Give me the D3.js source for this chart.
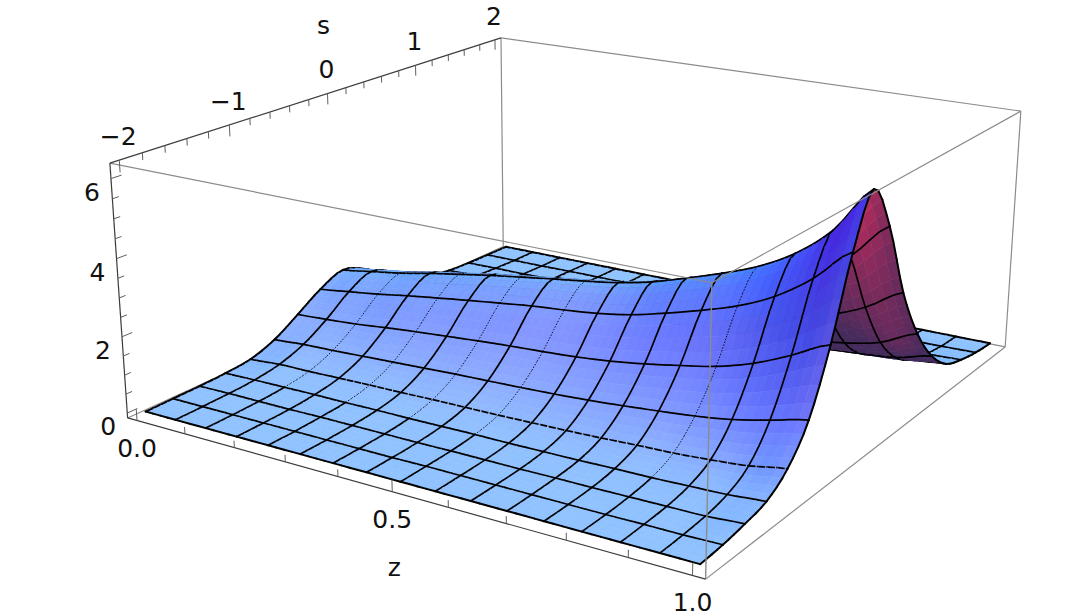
<!DOCTYPE html>
<html>
<head>
<meta charset="utf-8">
<script src="https://cdnjs.cloudflare.com/ajax/libs/d3/7.8.5/d3.min.js"></script>
<style>
  html, body { margin: 0; background: #fff; }
  text { font-family: "DejaVu Sans", sans-serif; font-size: 25px; fill: #111; text-anchor: middle; }
</style>
</head>
<body>
<svg id="chart" width="1088" height="616"></svg>
<script>
// mesh positions of the surface
const zValues = [0, 0.0625, 0.125, 0.1875, 0.25, 0.3125, 0.375, 0.4375, 0.5, 0.5625, 0.625, 0.6875, 0.75, 0.8125, 0.875, 0.9375, 1];
const sValues = [-2, -1.75, -1.5, -1.25, -1, -0.75, -0.5, -0.25, 0, 0.25, 0.5, 0.75, 1, 1.25, 1.5, 1.75, 2];

// surface height, one row per z value, one column per s value
const heights = [
  [0, .01, .02, .05, .12, .36, .77, 1.20, 1.47, 1.22, .76, .38, .18, .07, .03, .01, 0],
  [0, .01, .03, .07, .18, .42, .82, 1.31, 1.60, 1.31, .82, .43, .21, .09, .04, .01, 0],
  [0, .01, .03, .08, .19, .45, .88, 1.42, 1.73, 1.42, .88, .47, .22, .10, .04, .01, 0],
  [0, .01, .03, .09, .21, .49, .97, 1.56, 1.90, 1.56, .97, .51, .25, .10, .05, .02, 0],
  [0, .01, .04, .09, .23, .53, 1.05, 1.68, 2.05, 1.68, 1.05, .55, .27, .11, .05, .02, 0],
  [0, .01, .04, .10, .24, .57, 1.12, 1.80, 2.20, 1.80, 1.12, .59, .29, .12, .06, .02, 0],
  [0, .01, .04, .10, .26, .61, 1.19, 1.91, 2.33, 1.91, 1.19, .63, .30, .13, .06, .02, 0],
  [0, .01, .04, .11, .27, .64, 1.25, 2.02, 2.46, 2.02, 1.25, .66, .32, .14, .06, .02, 0],
  [0, .02, .05, .12, .28, .67, 1.30, 2.10, 2.58, 2.12, 1.32, .70, .34, .14, .06, .02, .01],
  [0, .02, .05, .12, .30, .71, 1.36, 2.20, 2.72, 2.23, 1.39, .73, .35, .15, .07, .02, .01],
  [0, .02, .05, .13, .32, .76, 1.45, 2.35, 2.92, 2.39, 1.49, .79, .38, .16, .07, .02, .01],
  [0, .02, .06, .14, .35, .83, 1.58, 2.58, 3.20, 2.62, 1.63, .86, .42, .18, .08, .03, .01],
  [0, .02, .06, .16, .39, .91, 1.74, 2.84, 3.50, 2.87, 1.79, .95, .46, .19, .09, .03, .01],
  [0, .02, .07, .17, .42, 1.00, 1.92, 3.14, 3.85, 3.16, 1.96, 1.04, .50, .21, .10, .03, .01],
  [0, .03, .08, .20, .48, 1.13, 2.20, 3.56, 4.35, 3.57, 2.22, 1.17, .57, .24, .11, .03, .01],
  [0, .03, .09, .23, .56, 1.33, 2.60, 4.18, 5.10, 4.18, 2.60, 1.38, .66, .28, .13, .04, .01],
  [0, .05, .15, .30, .72, 1.55, 3.05, 5.00, 6.25, 5.10, 3.16, 1.80, .90, .37, .17, .06, .01]
];

// tick marks and labels
const zTicksMajor = [0, 0.5, 1];
const zTicksMinor = [0.1, 0.2, 0.3, 0.4, 0.6, 0.7, 0.8, 0.9];
const sTicksMajor = [-2, -1, 0, 1, 2];
const sTicksMinor = [-1.8, -1.6, -1.4, -1.2, -0.8, -0.6, -0.4, -0.2, 0.2, 0.4, 0.6, 0.8, 1.2, 1.4, 1.6, 1.8];
const hTicksMajor = [0, 2, 4, 6];
const hTicksMinor = [0.5, 1, 1.5, 2.5, 3, 3.5, 4.5, 5, 5.5];
const zTickLabels = ['0.0', '0.5', '1.0'];
const sTickLabels = ['\u22122', '\u22121', '0', '1', '2'];
const hTickLabels = ['0', '2', '4', '6'];

// mesh lines that z-fight with the surface in the picture and come out broken
const faintZLines = [2, 4, 6, 8, 13];
const faintSRange = [-1.25, 0.25];
const brokenSLines = [4];
const brokenZFrom = 3;

const zDomain = [-0.02, 1.02];
const sDomain = [-2.08, 2.08];
const hDomain = [-0.13, 6.38];

const zScale = d3.scaleLinear().domain(zDomain).range([0, 1]);
const sScale = d3.scaleLinear().domain(sDomain).range([0, 1]);
const hScale = d3.scaleLinear().domain(hDomain).range([0, 0.4]);

// where seven corners of the box sit in the picture; the camera is fitted to them
const boxCorners = [
  { c: [0, 0, 0], p: [127.5, 418] },
  { c: [0, 0, 0.4], p: [110, 163] },
  { c: [1, 0, 0], p: [706, 579] },
  { c: [1, 0, 0.4], p: [711.5, 283] },
  { c: [1, 1, 0], p: [1005, 347] },
  { c: [1, 1, 0.4], p: [1021, 111] },
  { c: [0, 1, 0.4], p: [501, 38] }
];

function fitCamera(corners) {
  const rows = [];
  corners.forEach(({ c: [x, y, h], p: [u, v] }) => {
    rows.push([x, y, h, 1, 0, 0, 0, 0, -u * x, -u * y, -u * h, u]);
    rows.push([0, 0, 0, 0, x, y, h, 1, -v * x, -v * y, -v * h, v]);
  });
  // normal equations, then plain gaussian elimination
  const n = 11;
  const m = d3.range(n).map(a => d3.range(n + 1).map(b => d3.sum(rows, r => r[a] * r[b])));
  for (let i = 0; i < n; i++) {
    let pivot = i;
    for (let k = i + 1; k < n; k++) if (Math.abs(m[k][i]) > Math.abs(m[pivot][i])) pivot = k;
    [m[i], m[pivot]] = [m[pivot], m[i]];
    for (let k = 0; k < n; k++) {
      if (k === i) continue;
      const f = m[k][i] / m[i][i];
      for (let b = i; b <= n; b++) m[k][b] -= f * m[i][b];
    }
  }
  return m.map((r, i) => r[n] / r[i]);
}

const cam = fitCamera(boxCorners);

function projectBox(x, y, h) {
  const w = cam[8] * x + cam[9] * y + cam[10] * h + 1;
  return [
    (cam[0] * x + cam[1] * y + cam[2] * h + cam[3]) / w,
    (cam[4] * x + cam[5] * y + cam[6] * h + cam[7]) / w
  ];
}
const project = (z, s, h) => projectBox(zScale(z), sScale(s), hScale(h));

// catmull-rom lookup in the table, only used to round off the drawn patches
function cubic(a, b, c, d, t) {
  return b + 0.5 * t * (c - a + t * (2 * a - 5 * b + 4 * c - d + t * (3 * (b - c) + d - a)));
}
function heightAt(fi, fj) {
  const last = heights.length - 1;
  const i = Math.min(Math.floor(fi), last - 1);
  const j = Math.min(Math.floor(fj), last - 1);
  const at = (a, b) => heights[Math.max(0, Math.min(last, a))][Math.max(0, Math.min(last, b))];
  const col = [-1, 0, 1, 2].map(d => cubic(at(i + d, j - 1), at(i + d, j), at(i + d, j + 1), at(i + d, j + 2), fj - j));
  return cubic(col[0], col[1], col[2], col[3], fi - i);
}

const sub = 4;
const cells = (zValues.length - 1) * sub;
const zStep = zValues[1] - zValues[0];
const sStep = sValues[1] - sValues[0];

const grid = d3.range(cells + 1).map(i => d3.range(cells + 1).map(j => {
  const h = heightAt(i / sub, j / sub);
  const z = zValues[0] + zStep * i / sub;
  const s = sValues[0] + sStep * j / sub;
  return { z, s, h, x: zScale(z), y: sScale(s), b: hScale(h), p: project(z, s, h), ground: project(z, s, 0) };
}));

// view basis of the default camera and its three coloured lights
const viewRight = [0.878, 0.475, 0];
const viewUp = [-0.28, 0.518, 0.808];
const viewBack = [0.383, -0.708, 0.59];
const dot = (a, b) => a[0] * b[0] + a[1] * b[1] + a[2] * b[2];
const unit = a => { const l = Math.hypot(...a); return a.map(d => d / l); };
const lightR = unit([0.75, -0.05, 0.62]);
const lightG = unit([0.6, 0.42, 0.68]);
const lightB = unit([-0.5, 1.5, 2]);

function normalAt(i, j) {
  const i0 = Math.max(0, i - 1), i1 = Math.min(cells, i + 1);
  const j0 = Math.max(0, j - 1), j1 = Math.min(cells, j + 1);
  const dx = (grid[i1][j].b - grid[i0][j].b) / (grid[i1][j].x - grid[i0][j].x);
  const dy = (grid[i][j1].b - grid[i][j0].b) / (grid[i][j1].y - grid[i][j0].y);
  return [-dx, -dy, 1];
}

const quadArea = pts => d3.polygonArea(pts);

function patchColor(i, j) {
  const ns = [normalAt(i, j), normalAt(i + 1, j), normalAt(i, j + 1), normalAt(i + 1, j + 1)];
  let n = unit([0, 1, 2].map(k => d3.mean(ns, d => d[k])));
  const corners = [grid[i][j], grid[i + 1][j], grid[i + 1][j + 1], grid[i][j + 1]];
  // the underside shows when the patch turns over on screen
  if (quadArea(corners.map(d => d.p)) * quadArea(corners.map(d => d.ground)) < 0) n = n.map(d => -d);
  const v = [dot(n, viewRight), dot(n, viewUp), dot(n, viewBack)];
  const r = 0.27 + 0.88 * Math.max(0, dot(v, lightR));
  const g = 0.17 + 0.8 * Math.max(0, dot(v, lightG));
  const b = 0.36 + 0.72 * Math.max(0, dot(v, lightB));
  return d3.rgb(Math.min(255, r * 255), Math.min(255, g * 255), Math.min(255, b * 255)).formatRgb();
}

// far to near: the eye is past z = 1 and before s = -2
const items = [];
const path = pts => 'M' + pts.map(p => p[0].toFixed(2) + ',' + p[1].toFixed(2)).join('L');
const edge = (a, b, width, dash) => items.push({ d: path([a.p, b.p]), fill: 'none', stroke: '#000', width, dash: dash || null });
for (let j = cells - 1; j >= 0; j--) {
  for (let i = 0; i < cells; i++) {
    const a = grid[i][j], b = grid[i + 1][j], c = grid[i + 1][j + 1], e = grid[i][j + 1];
    const color = patchColor(i, j);
    items.push({ d: path([a.p, b.p, c.p, e.p]) + 'Z', fill: color, stroke: color, width: 0.6, dash: null });
    if (i % sub === 0) {
      const faint = faintZLines.includes(i / sub) && a.s >= faintSRange[0] && a.s < faintSRange[1];
      if (faint) edge(a, e, 0.9, '1.5 1.5');
      else edge(a, e, i === 0 ? 2 : 1.7);
    }
    if ((j + 1) % sub === 0) {
      const broken = brokenSLines.includes((j + 1) / sub) && i / sub >= brokenZFrom;
      edge(e, c, j + 1 === cells ? 2 : 1.7, broken ? '7 1.2' : null);
    }
    if (i + 1 === cells) edge(b, c, 2);
    if (j === 0) edge(a, b, 2);
  }
}

const svg = d3.select('#chart');
const [z0, z1] = zDomain, [s0, s1] = sDomain, [h0, h1] = hDomain;
const boxGray = '#8c8c8c';
const axisGray = '#3c3c3c';
const drawLine = (g, a, b, color, width) => g.append('path')
  .attr('d', path([a, b])).attr('fill', 'none').attr('stroke', color).attr('stroke-width', width);

// box edges behind the surface
const back = svg.append('g');
drawLine(back, project(z0, s1, h0), project(z0, s1, h1), boxGray, 1.2);
drawLine(back, project(z0, s0, h0), project(z0, s1, h0), boxGray, 1.2);
drawLine(back, project(z0, s1, h0), project(z1, s1, h0), boxGray, 1.2);
drawLine(back, project(z0, s1, h1), project(z1, s1, h1), boxGray, 1.2);
drawLine(back, project(z1, s1, h0), project(z1, s1, h1), boxGray, 1.2);

svg.append('g').selectAll('path').data(items).join('path')
  .attr('d', d => d.d)
  .attr('fill', d => d.fill)
  .attr('stroke', d => d.stroke)
  .attr('stroke-width', d => d.width)
  .attr('stroke-dasharray', d => d.dash)
  .attr('stroke-linecap', d => d.fill === 'none' && !d.dash ? 'round' : null);

// box edges and axes in front of it
const front = svg.append('g');
drawLine(front, project(z1, s0, h0), project(z1, s0, h1), boxGray, 1.4);
drawLine(front, project(z0, s0, h1), project(z1, s0, h1), boxGray, 1.2);
drawLine(front, project(z1, s0, h1), project(z1, s1, h1), boxGray, 1.2);
drawLine(front, project(z1, s0, h0), project(z1, s1, h0), boxGray, 1.2);
drawLine(front, project(z0, s0, h0), project(z1, s0, h0), axisGray, 1.2);
drawLine(front, project(z0, s0, h0), project(z0, s0, h1), axisGray, 1.2);
drawLine(front, project(z0, s0, h1), project(z0, s1, h1), axisGray, 1.2);

const tickColor = '#5e5e5e';
zTicksMajor.forEach(z => drawLine(front, project(z, s0, h0), project(z, s0, h0 + 0.3), tickColor, 1));
zTicksMinor.forEach(z => drawLine(front, project(z, s0, h0), project(z, s0, h0 + 0.18), tickColor, 1));
sTicksMajor.forEach(s => drawLine(front, project(z0, s, h1), project(z0, s, h1 - 0.3), tickColor, 1));
sTicksMinor.forEach(s => drawLine(front, project(z0, s, h1), project(z0, s, h1 - 0.18), tickColor, 1));
hTicksMajor.forEach(h => drawLine(front, project(z0, s0, h), project(z0, s0 + 0.09, h), tickColor, 1));
hTicksMinor.forEach(h => drawLine(front, project(z0, s0, h), project(z0, s0 + 0.055, h), tickColor, 1));

const label = (pos, dx, dy, str) => svg.append('text')
  .attr('x', pos[0] + dx).attr('y', pos[1] + dy).attr('dy', '0.36em').text(str);

zTicksMajor.forEach((z, i) => label(project(z, s0, h0), 0, 27, zTickLabels[i]));
sTicksMajor.forEach((s, i) => label(project(z0, s, h1), -1, -24, sTickLabels[i]));
hTicksMajor.forEach((h, i) => label(project(z0, s0, h), -19, 13, hTickLabels[i]));
label(project(0.5, s0, h0), 2, 75, 'z');
label(project(z0, 0, h1), -4, -68, 's');
</script>
</body>
</html>
